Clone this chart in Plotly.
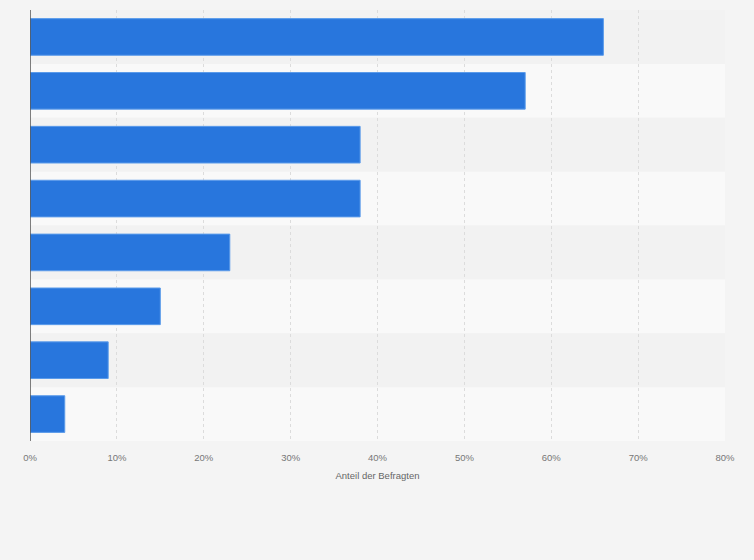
import plotly.graph_objects as go

# Daten (von oben nach unten)
kategorien = ["K1", "K2", "K3", "K4", "K5", "K6", "K7", "K8"]
anteile = [66, 57, 38, 38, 23, 15, 9, 4]
tick_werte = [0, 10, 20, 30, 40, 50, 60, 70, 80]
tick_texte = ["0%", "10%", "20%", "30%", "40%", "50%", "60%", "70%", "80%"]

fig = go.Figure()

fig.add_trace(go.Bar(
    x=anteile,
    y=kategorien,
    orientation="h",
    width=0.68,
    marker=dict(color="#2876dd", line=dict(color="#5b9bea", width=1)),
    hoverinfo="x",
    showlegend=False,
))

# abwechselnde Hintergrundstreifen
shapes = []
for i, k in enumerate(kategorien):
    shapes.append(dict(
        type="rect", xref="x domain", yref="y",
        x0=0, x1=1, y0=i - 0.5, y1=i + 0.5,
        fillcolor="#f2f2f2" if i % 2 == 0 else "#f9f9f9",
        line=dict(width=0), layer="below",
    ))

fig.update_layout(
    width=754, height=560,
    margin=dict(l=30, r=29, t=10, b=119),
    paper_bgcolor="#f4f4f4",
    plot_bgcolor="#f4f4f4",
    shapes=shapes,
    font=dict(family="Liberation Sans, Arial, sans-serif", size=9, color="#777777"),
)

fig.update_xaxes(
    range=[0, 80],
    tickvals=tick_werte,
    ticktext=tick_texte,
    showgrid=True,
    gridcolor="#dcdcdc",
    griddash="dot",
    gridwidth=1,
    zeroline=False,
    showline=False,
    ticks="",
    ticklabelstandoff=9,
    tickfont=dict(size=9.5, color="#777777"),
    title=dict(text="Anteil der Befragten", font=dict(size=9.5, color="#666666"), standoff=10),
    layer="below traces",
)

fig.update_yaxes(
    showticklabels=False,
    showgrid=False,
    zeroline=False,
    showline=False,
    range=[7.5, -0.5],
)

# linke Achsenlinie
fig.add_shape(type="line", xref="x", yref="paper", x0=0, x1=0, y0=0, y1=1,
              line=dict(color="#555555", width=1.5))

fig.write_html("out.html", config={"displayModeBar": False},
               post_script="document.body.style.margin='0';")
